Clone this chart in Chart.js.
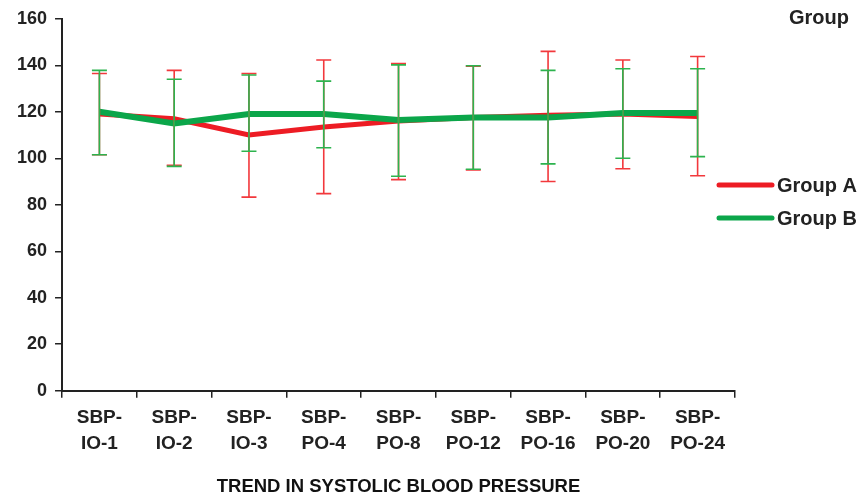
<!DOCTYPE html>
<html>
<head>
<meta charset="utf-8">
<script src="https://cdn.jsdelivr.net/npm/chart.js@4/dist/chart.umd.min.js"></script>
<style>
html,body{margin:0;padding:0;background:#fff;}
#wrap{width:865px;height:499px;}
</style>
</head>
<body>
<div id="wrap"><canvas id="c" width="865" height="499"></canvas></div>
<script>
const categories = [["SBP-","IO-1"],["SBP-","IO-2"],["SBP-","IO-3"],["SBP-","PO-4"],["SBP-","PO-8"],["SBP-","PO-12"],["SBP-","PO-16"],["SBP-","PO-20"],["SBP-","PO-24"]];
const groupAMean = [119, 117, 110, 113.5, 116, 117.5, 118.5, 119, 118];
const groupAHigh = [136.5, 137.8, 136.5, 142.3, 140.8, 139.6, 146, 142.3, 143.8];
const groupALow  = [101.5, 97, 83.3, 84.8, 90.8, 95, 90, 95.5, 92.5];
const groupBMean = [120, 115, 119, 119, 116.5, 117.5, 117.5, 119.5, 119.5];
const groupBHigh = [137.8, 134, 135.8, 133.2, 140.2, 139.8, 137.8, 138.5, 138.5];
const groupBLow  = [101.5, 96.5, 103, 104.5, 92.3, 95.3, 97.6, 100, 100.7];
const yTicks = [0, 20, 40, 60, 80, 100, 120, 140, 160];
const seriesNames = ["Group A", "Group B"];
const legendTitle = "Group";
const xTitle = "TREND IN SYSTOLIC BLOOD PRESSURE";

const RED = '#ED1C24';
const GREEN = '#0BA64A';
const FONT = "'Liberation Sans', Arial, sans-serif";

const errorBars = {
  id: 'errorBars',
  afterDatasetsDraw(chart) {
    const ctx = chart.ctx;
    const xs = chart.scales.x, ys = chart.scales.y;
    chart.data.datasets.forEach((ds, di) => {
      if (!ds.errLow) return;
      ctx.save();
      ctx.strokeStyle = ds.errColor;
      ctx.lineWidth = 1.6;
      ds.data.forEach((v, i) => {
        const x = xs.getPixelForValue(i);
        const yh = ys.getPixelForValue(ds.errHigh[i]);
        const yl = ys.getPixelForValue(ds.errLow[i]);
        ctx.beginPath();
        ctx.moveTo(x, yh); ctx.lineTo(x, yl);
        ctx.moveTo(x - 7.5, yh); ctx.lineTo(x + 7.5, yh);
        ctx.moveTo(x - 7.5, yl); ctx.lineTo(x + 7.5, yl);
        ctx.stroke();
      });
      ctx.restore();
    });
  }
};

const customLegend = {
  id: 'customLegend',
  afterDraw(chart) {
    const ctx = chart.ctx;
    ctx.save();
    ctx.fillStyle = '#222';
    ctx.font = "bold 20px " + FONT;
    ctx.textBaseline = 'middle';
    ctx.textAlign = 'left';
    ctx.fillText(legendTitle, 789, 18);
    const ys = [185, 218];
    chart.data.datasets.forEach((ds, i) => {
      ctx.strokeStyle = ds.borderColor;
      ctx.lineWidth = 5;
      ctx.lineCap = 'round';
      ctx.beginPath();
      ctx.moveTo(719, ys[i]); ctx.lineTo(772, ys[i]);
      ctx.stroke();
      ctx.fillStyle = '#222';
      ctx.fillText(ds.label, 777, ys[i] + 1);
    });
    ctx.restore();
  }
};

new Chart(document.getElementById('c'), {
  type: 'line',
  data: {
    labels: categories,
    datasets: [
      { label: seriesNames[0], data: groupAMean, errHigh: groupAHigh, errLow: groupALow,
        borderColor: RED, errColor: '#F2383C', borderWidth: 5, pointRadius: 0, tension: 0, order: 2 },
      { label: seriesNames[1], data: groupBMean, errHigh: groupBHigh, errLow: groupBLow,
        borderColor: GREEN, errColor: '#2DB34E', borderWidth: 6, pointRadius: 0, tension: 0, order: 1 }
    ]
  },
  options: {
    responsive: false,
    animation: false,
    layout: { padding: { left: 9, right: 130, top: 17, bottom: 0 } },
    plugins: { legend: { display: false }, tooltip: { enabled: false } },
    scales: {
      x: {
        offset: true,
        grid: { offset: true, drawOnChartArea: false, drawTicks: true, tickLength: 7, color: '#222', lineWidth: 1.5 },
        border: { display: true, color: '#222', width: 2 },
        ticks: { color: '#222', font: { family: FONT, size: 19, weight: 'bold', lineHeight: 1.37 }, padding: 7, maxRotation: 0, autoSkip: false },
        title: { display: true, text: xTitle, color: '#111', font: { family: FONT, size: 18.5, weight: 'bold' }, padding: { top: 12, bottom: 1 } }
      },
      y: {
        min: 0, max: 160,
        afterBuildTicks(scale) { scale.ticks = yTicks.map(v => ({ value: v })); },
        grid: { drawOnChartArea: false, drawTicks: true, tickLength: 7, color: '#222', lineWidth: 1.5 },
        border: { display: true, color: '#222', width: 2 },
        ticks: { color: '#222', font: { family: FONT, size: 18, weight: 'bold' }, padding: 8 }
      }
    }
  },
  plugins: [errorBars, customLegend]
});
</script>
</body>
</html>
